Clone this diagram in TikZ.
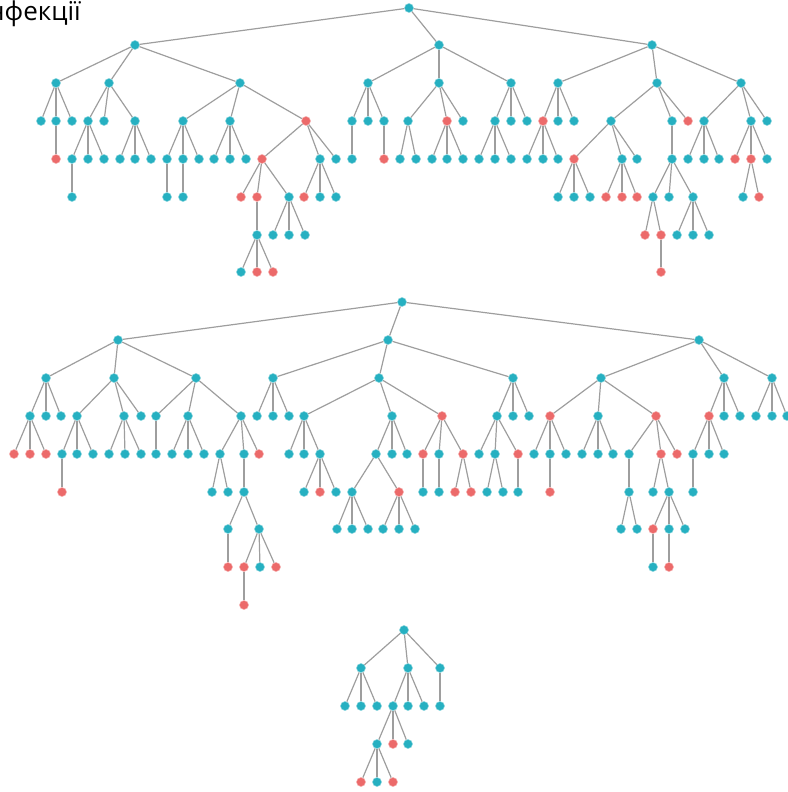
\documentclass[tikz,border=0pt]{standalone}
\usepackage{fontspec}
\setmainfont{Open Sans}
\usepackage{xcolor}
\definecolor{Teal}{RGB}{38,176,193}
\definecolor{Coral}{RGB}{236,106,106}
\definecolor{Edge}{RGB}{158,158,158}

\begin{document}
\begin{tikzpicture}[
    x=1pt, y=-1pt,
    ok/.style={circle, fill=Teal, draw=Teal!55!white, line width=0.5pt,
               minimum size=9pt, inner sep=0pt},
    bad/.style={ok, fill=Coral, draw=Coral!55!white},
    link/.style={draw=Edge, line width=1.2pt},
    font=\fontsize{26}{26}\selectfont
]
  \useasboundingbox (0,0) rectangle (787,792);

  \node[anchor=base east, inner sep=0pt] (title) at (81,21) {нфекції};

  % first tree
  \node[ok] (a) at (409,8) {};
  \foreach \n/\p/\x/\y/\s in {
    a1/a/135/45/ok, a2/a/439/45/ok, a3/a/652/45/ok,
    a11/a1/56/83/ok, a12/a1/109/83/ok, a13/a1/240/83/ok,
    a21/a2/368/83/ok, a22/a2/439/83/ok, a23/a2/511/83/ok,
    a31/a3/558/83/ok, a32/a3/657/83/ok, a33/a3/741/83/ok,
    a111/a11/41/121/ok, a112/a11/56/121/ok, a113/a11/72/121/ok,
    a121/a12/88/121/ok, a122/a12/104/121/ok, a123/a12/135/121/ok,
    a131/a13/183/121/ok, a132/a13/230/121/ok, a133/a13/306/121/bad,
    a211/a21/352/121/ok, a212/a21/368/121/ok, a213/a21/384/121/ok,
    a221/a22/408/121/ok, a222/a22/447/121/bad, a223/a22/463/121/ok,
    a231/a23/495/121/ok, a232/a23/511/121/ok, a233/a23/527/121/ok,
    a311/a31/543/121/bad, a312/a31/558/121/ok, a313/a31/574/121/ok,
    a321/a32/611/121/ok, a322/a32/672/121/ok, a323/a32/688/121/bad,
    a331/a33/704/121/ok, a332/a33/751/121/ok, a333/a33/767/121/ok,
    a1121/a112/56/159/bad,
    a1211/a121/72/159/ok, a1212/a121/88/159/ok, a1213/a121/104/159/ok,
    a1231/a123/120/159/ok, a1232/a123/135/159/ok, a1233/a123/151/159/ok,
    a1311/a131/167/159/ok, a1312/a131/183/159/ok, a1313/a131/199/159/ok,
    a1321/a132/214/159/ok, a1322/a132/230/159/ok, a1323/a132/246/159/ok,
    a1331/a133/262/159/bad, a1332/a133/320/159/ok, a1333/a133/336/159/ok,
    a2111/a211/352/159/ok,
    a2131/a213/384/159/bad,
    a2211/a221/400/159/ok, a2212/a221/416/159/ok,
    a2221/a222/432/159/ok, a2222/a222/447/159/ok, a2223/a222/463/159/ok,
    a2311/a231/479/159/ok, a2312/a231/495/159/ok, a2313/a231/511/159/ok,
    a3111/a311/527/159/ok, a3112/a311/543/159/ok, a3113/a311/558/159/ok,
    a3211/a321/574/159/bad, a3212/a321/622/159/ok, a3213/a321/637/159/ok,
    a3221/a322/672/159/ok,
    a3311/a331/688/159/ok, a3312/a331/704/159/ok, a3313/a331/719/159/ok,
    a3321/a332/735/159/bad, a3322/a332/751/159/bad, a3323/a332/767/159/ok,
    a12111/a1211/72/197/ok,
    a13111/a1311/167/197/ok,
    a13121/a1312/183/197/ok,
    a13311/a1331/241/197/bad, a13312/a1331/257/197/bad, a13313/a1331/289/197/ok,
    a13321/a1332/304/197/bad, a13322/a1332/320/197/ok, a13323/a1332/336/197/ok,
    a32111/a3211/558/197/ok, a32112/a3211/574/197/ok, a32113/a3211/590/197/ok,
    a32121/a3212/606/197/bad, a32122/a3212/622/197/bad, a32123/a3212/637/197/bad,
    a32211/a3221/653/197/ok, a32212/a3221/669/197/ok, a32213/a3221/693/197/ok,
    a33221/a3322/743/197/ok, a33222/a3322/759/197/bad,
    a133121/a13312/257/235/ok,
    a133131/a13313/273/235/ok, a133132/a13313/289/235/ok, a133133/a13313/305/235/ok,
    a322111/a32211/645/235/bad, a322112/a32211/661/235/bad,
    a322131/a32213/677/235/ok, a322132/a32213/693/235/ok, a322133/a32213/709/235/ok,
    a1331211/a133121/241/272/ok, a1331212/a133121/257/272/bad,
    a1331213/a133121/273/272/bad,
    a3221121/a322112/661/272/bad} {
    \node[\s] (\n) at (\x,\y) {};
    \draw[link] (\p) -- (\n);
  }

  % second tree
  \node[ok] (b) at (402,302) {};
  \foreach \n/\p/\x/\y/\s in {
    b1/b/118/340/ok, b2/b/388/340/ok, b3/b/699/340/ok,
    b11/b1/46/378/ok, b12/b1/114/378/ok, b13/b1/196/378/ok,
    b21/b2/273/378/ok, b22/b2/379/378/ok, b23/b2/513/378/ok,
    b31/b3/601/378/ok, b32/b3/724/378/ok, b33/b3/772/378/ok,
    b111/b11/30/416/ok, b112/b11/46/416/ok, b113/b11/61/416/ok,
    b121/b12/77/416/ok, b122/b12/124/416/ok, b123/b12/141/416/ok,
    b131/b13/156/416/ok, b132/b13/188/416/ok, b133/b13/241/416/ok,
    b211/b21/257/416/ok, b212/b21/273/416/ok, b213/b21/289/416/ok,
    b221/b22/304/416/ok, b222/b22/392/416/ok, b223/b22/442/416/bad,
    b231/b23/497/416/ok, b232/b23/513/416/ok, b233/b23/529/416/ok,
    b311/b31/550/416/bad, b312/b31/598/416/ok, b313/b31/656/416/bad,
    b321/b32/709/416/bad, b322/b32/724/416/ok, b323/b32/740/416/ok,
    b331/b33/756/416/ok, b332/b33/772/416/ok, b333/b33/787/416/ok,
    b1111/b111/14/454/bad, b1112/b111/30/454/bad, b1113/b111/46/454/bad,
    b1211/b121/62/454/ok, b1212/b121/77/454/ok, b1213/b121/93/454/ok,
    b1221/b122/109/454/ok, b1222/b122/125/454/ok, b1223/b122/141/454/ok,
    b1311/b131/156/454/ok,
    b1321/b132/172/454/ok, b1322/b132/188/454/ok, b1323/b132/204/454/ok,
    b1331/b133/220/454/ok, b1332/b133/244/454/ok, b1333/b133/259/454/bad,
    b2211/b221/289/454/ok, b2212/b221/304/454/ok, b2213/b221/320/454/ok,
    b2221/b222/376/454/ok, b2222/b222/392/454/ok, b2223/b222/407/454/ok,
    b2231/b223/423/454/bad, b2232/b223/439/454/ok, b2233/b223/463/454/bad,
    b2311/b231/479/454/ok, b2312/b231/495/454/ok, b2313/b231/518/454/bad,
    b3111/b311/534/454/ok, b3112/b311/550/454/ok, b3113/b311/566/454/ok,
    b3121/b312/582/454/ok, b3122/b312/598/454/ok, b3123/b312/613/454/ok,
    b3131/b313/629/454/ok, b3132/b313/661/454/bad, b3133/b313/677/454/bad,
    b3211/b321/693/454/ok, b3212/b321/709/454/ok, b3213/b321/724/454/ok,
    b12111/b1211/62/492/bad,
    b13311/b1331/212/492/ok, b13312/b1331/228/492/ok,
    b13321/b1332/244/492/ok,
    b22131/b2213/304/492/ok, b22132/b2213/320/492/bad, b22133/b2213/336/492/ok,
    b22211/b2221/352/492/ok, b22212/b2221/399/492/bad,
    b22311/b2231/423/492/ok,
    b22321/b2232/439/492/ok,
    b22331/b2233/455/492/bad, b22332/b2233/471/492/bad,
    b23121/b2312/487/492/ok, b23122/b2312/503/492/ok,
    b23131/b2313/518/492/ok,
    b31121/b3112/550/492/bad,
    b31311/b3131/629/492/ok,
    b31321/b3132/653/492/ok, b31322/b3132/669/492/ok,
    b32111/b3211/693/492/ok,
    b133211/b13321/228/529/ok, b133212/b13321/259/529/ok,
    b222111/b22211/337/529/ok, b222112/b22211/352/529/ok, b222113/b22211/368/529/ok,
    b222121/b22212/383/529/ok, b222122/b22212/399/529/ok, b222123/b22212/415/529/ok,
    b313111/b31311/621/529/ok, b313112/b31311/637/529/ok,
    b313221/b31322/653/529/bad, b313222/b31322/669/529/ok, b313223/b31322/685/529/ok,
    b1332111/b133211/228/567/bad,
    b1332121/b133212/244/567/bad, b1332122/b133212/260/567/ok,
    b1332123/b133212/276/567/bad,
    b3132211/b313221/653/567/ok,
    b3132221/b313222/669/567/bad,
    b13321211/b1332121/244/605/bad} {
    \node[\s] (\n) at (\x,\y) {};
    \draw[link] (\p) -- (\n);
  }

  % third tree
  \node[ok] (c) at (404,630) {};
  \foreach \n/\p/\x/\y/\s in {
    c1/c/361/668/ok, c2/c/408/668/ok, c3/c/440/668/ok,
    c11/c1/345/706/ok, c12/c1/361/706/ok, c13/c1/377/706/ok,
    c21/c2/393/706/ok, c22/c2/408/706/ok, c23/c2/424/706/ok,
    c31/c3/440/706/ok,
    c211/c21/377/744/ok, c212/c21/393/744/bad, c213/c21/408/744/ok,
    c2111/c211/361/782/bad, c2112/c211/377/782/ok, c2113/c211/393/782/bad} {
    \node[\s] (\n) at (\x,\y) {};
    \draw[link] (\p) -- (\n);
  }
\end{tikzpicture}
\end{document}
